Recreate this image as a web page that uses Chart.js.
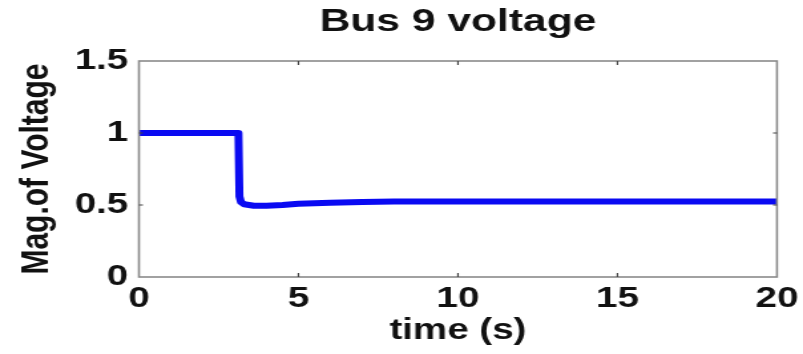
<!DOCTYPE html>
<html>
<head>
<meta charset="utf-8">
<script src="https://cdn.jsdelivr.net/npm/chart.js@4.4.1/dist/chart.umd.min.js"></script>
<style>
  html, body { margin: 0; padding: 0; background: #fff; overflow: hidden; }
  #wrap { width: 604px; height: 354px; transform: scaleX(1.3295); transform-origin: 0 0; }
</style>
</head>
<body>
<div id="wrap"><canvas id="chartBus9" width="604" height="354"></canvas></div>
<script>
// dati (tensione bus 9)
const tempo = [0, 3.12, 3.15, 3.2, 3.3, 3.6, 4.0, 4.5, 5, 6, 7, 8, 10, 15, 20];
const tensione = [1.0, 1.0, 0.56, 0.52, 0.505, 0.495, 0.495, 0.5, 0.508, 0.515, 0.52, 0.525, 0.525, 0.525, 0.525];
const xTicks = [0, 5, 10, 15, 20];
const xTickLabels = ["0", "5", "10", "15", "20"];
const yTicks = [0, 0.5, 1, 1.5];
const yTickLabels = ["0", "0.5", "1", "1.5"];

const FONT = "'Liberation Sans', Arial, Helvetica, sans-serif";

// box stile MATLAB con tacche verso l'interno
const boxPlugin = {
  id: "boxTicks",
  afterDraw(chart) {
    const { ctx, chartArea: a, scales } = chart;
    ctx.save();
    ctx.strokeStyle = "#8a8a8a";
    ctx.lineWidth = 1.6;
    ctx.strokeRect(a.left, a.top, a.right - a.left, a.bottom - a.top);
    ctx.strokeStyle = "#444";
    ctx.lineWidth = 1.2;
    const len = 4;
    scales.x.ticks.forEach(t => {
      if (t.value <= scales.x.min || t.value >= scales.x.max) return;
      const px = scales.x.getPixelForValue(t.value);
      ctx.beginPath();
      ctx.moveTo(px, a.bottom); ctx.lineTo(px, a.bottom - len);
      ctx.moveTo(px, a.top); ctx.lineTo(px, a.top + len);
      ctx.stroke();
    });
    scales.y.ticks.forEach(t => {
      if (t.value <= scales.y.min || t.value >= scales.y.max) return;
      const py = scales.y.getPixelForValue(t.value);
      ctx.beginPath();
      ctx.moveTo(a.left, py); ctx.lineTo(a.left + len * 0.75, py);
      ctx.moveTo(a.right, py); ctx.lineTo(a.right - len * 0.75, py);
      ctx.stroke();
    });
    ctx.restore();
  }
};

const ctx = document.getElementById("chartBus9").getContext("2d");
new Chart(ctx, {
  type: "line",
  data: {
    datasets: [{
      label: "Bus 9",
      data: tempo.map((t, i) => ({ x: t, y: tensione[i] })),
      borderColor: "#0a0af2",
      borderWidth: 6,
      borderJoinStyle: "round",
      borderCapStyle: "butt",
      pointRadius: 0,
      tension: 0,
      fill: false
    }]
  },
  options: {
    responsive: false,
    animation: false,
    layout: { padding: { left: 0, right: 19.6, top: 0, bottom: 0 } },
    plugins: {
      legend: { display: false },
      tooltip: { enabled: false },
      title: {
        display: true,
        text: "Bus 9 voltage",
        fullSize: false,
        color: "#111",
        font: { family: FONT, size: 32, weight: "bold", lineHeight: 1 },
        padding: { top: 6.5, bottom: 22.5 }
      }
    },
    scales: {
      x: {
        type: "linear",
        min: 0,
        max: 20,
        afterBuildTicks: s => { s.ticks = xTicks.map(v => ({ value: v })); },
        afterFit: s => { s.height = 77; s.paddingLeft = 0; s.paddingRight = 0; },
        grid: { display: false, drawTicks: false },
        border: { display: false },
        ticks: {
          color: "#111",
          padding: 7,
          maxRotation: 0,
          callback: (v, i) => xTickLabels[i],
          font: { family: FONT, size: 29, weight: "bold", lineHeight: 1 }
        },
        title: {
          display: true,
          text: "time (s)",
          color: "#111",
          font: { family: FONT, size: 29, weight: "bold", lineHeight: 1 },
          padding: { top: 0, bottom: 8.5 }
        }
      },
      y: {
        min: 0,
        max: 1.5,
        afterBuildTicks: s => { s.ticks = yTicks.map(v => ({ value: v })); },
        afterFit: s => { s.width = 104.5; s.paddingTop = 0; s.paddingBottom = 0; },
        grid: { display: false, drawTicks: false },
        border: { display: false },
        ticks: {
          color: "#111",
          padding: 8,
          callback: (v, i) => yTickLabels[i],
          font: { family: FONT, size: 29, weight: "bold", lineHeight: 1 }
        },
        title: {
          display: true,
          text: "Mag.of Voltage",
          color: "#111",
          font: { family: FONT, size: 30, weight: "bold", lineHeight: 1 },
          padding: { top: 12.5, bottom: 0 }
        }
      }
    }
  },
  plugins: [boxPlugin]
});
</script>
</body>
</html>
